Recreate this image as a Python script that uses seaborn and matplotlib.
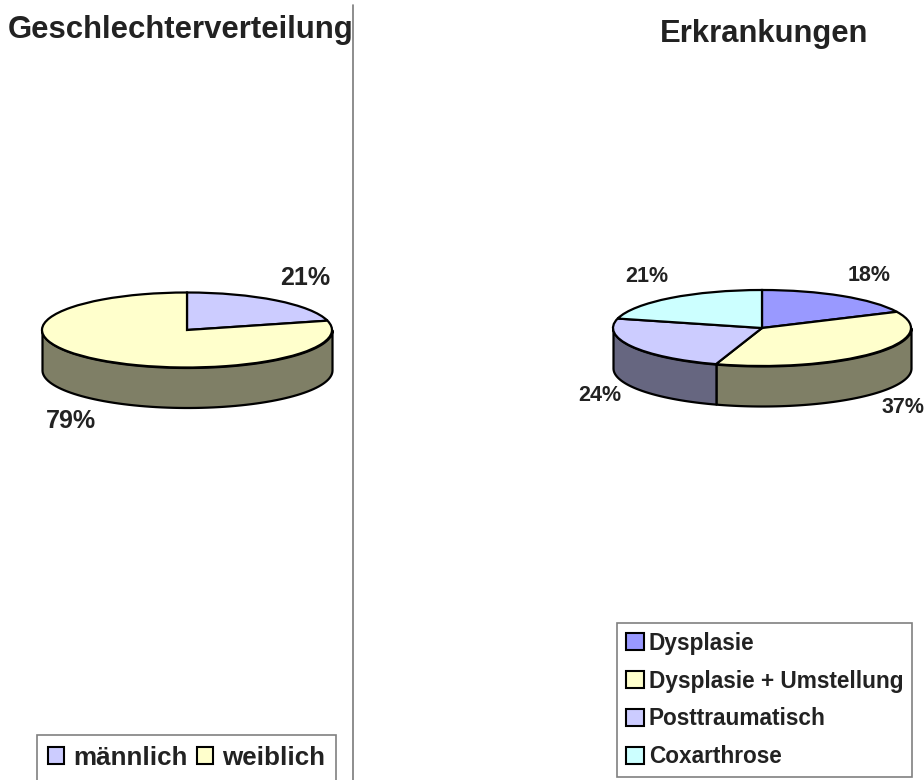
import numpy as np
import seaborn as sns
import matplotlib.pyplot as plt
from matplotlib.patches import Patch

# values
gender_labels = ['männlich', 'weiblich']
gender_values = [21, 79]
gender_top = ['#CCCCFF', '#FFFFCC']
gender_side = ['#666680', '#7F7F66']

disease_labels = ['Dysplasie', 'Dysplasie + Umstellung', 'Posttraumatisch', 'Coxarthrose']
disease_values = [18, 37, 24, 21]
disease_top = ['#9999FF', '#FFFFCC', '#CCCCFF', '#CCFFFF']
disease_side = ['#4D4D80', '#7F7F66', '#666680', '#668080']

W, H = 924, 780

sns.set_theme(style='white')
plt.rcParams['font.family'] = ['Liberation Sans', 'DejaVu Sans']
TXT = '#222222'

fig = plt.figure(figsize=(W / 100, H / 100), dpi=100, facecolor='white')


def pie3d(x0, x1, cx, cy, a, b, depth, values, top, side, label_xy, label_size):
    # axes covers a pixel column, data units are the ellipse radii
    ax = fig.add_axes([x0 / W, 0, (x1 - x0) / W, 1])
    ax.pie(values, colors=sns.color_palette(top), startangle=90, counterclock=False,
           wedgeprops=dict(edgecolor='black', linewidth=1.6))
    ax.set_aspect('auto')
    ax.set_xlim((x0 - cx) / a, (x1 - cx) / a)
    ax.set_ylim((cy - H) / b, cy / b)

    # side wall: only the front half of the disc shows
    start = 0
    for v, c in zip(values, side):
        end = start + v / sum(values) * 360
        lo, hi = max(start, 90), min(end, 270)
        if lo < hi:
            t = np.radians(np.linspace(lo, hi, 80))
            ytop = np.cos(t)
            ax.fill_between(np.sin(t), ytop, ytop - depth / b, facecolor=c,
                            edgecolor='black', linewidth=1.6, zorder=0)
        start = end

    for v, (px, py) in zip(values, label_xy):
        ax.text((px - cx) / a, (cy - py) / b, f'{v}%', ha='center', va='center',
                fontsize=label_size, fontweight='bold', color=TXT, clip_on=False)
    return ax


ax1 = pie3d(0, 353, 187, 330, 145, 37.5, 40, gender_values, gender_top, gender_side,
            [(305, 278), (71, 421)], 18)
ax2 = pie3d(560, 924, 762, 328, 149, 38, 40, disease_values, disease_top, disease_side,
            [(869, 276), (903, 408), (600, 396), (647, 277)], 15.5)

# divider between the two charts
ax1.plot([1, 1], [0, 1 - 5 / H], transform=ax1.transAxes, color='#7a7a7a', lw=1.2, clip_on=False)

fig.text(8 / W, 1 - 30 / H, 'Geschlechterverteilung', fontsize=22.4, fontweight='bold',
         color=TXT, ha='left', va='center')
fig.text(764 / W, 1 - 34 / H, 'Erkrankungen', fontsize=22.3, fontweight='bold',
         color=TXT, ha='center', va='center')


def legend(ax, labels, colors, ncol, left, top, size, gap, pad, hsize, textpad, colgap):
    handles = [Patch(facecolor=c, edgecolor='black', linewidth=1.5) for c in colors]
    leg = ax.legend(handles, labels, ncol=ncol, loc='upper left',
                    bbox_to_anchor=(left / W, 1 - top / H), bbox_transform=fig.transFigure,
                    prop=dict(size=size, weight='bold'), frameon=True, fancybox=False,
                    edgecolor='#808080', framealpha=1, borderaxespad=0, borderpad=pad,
                    handlelength=hsize, handleheight=hsize, handletextpad=textpad,
                    columnspacing=colgap, labelspacing=gap, labelcolor=TXT)
    leg.get_frame().set_linewidth(1.2)
    return leg


legend(ax1, gender_labels, gender_top, 2, 37, 735, 18.7, 0.5, 0.42, 0.62, 0.35, 0.35)
legend(ax2, disease_labels, disease_top, 1, 617, 623, 16.3, 0.66, 0.38, 0.8, 0.22, 0.6)

fig.savefig('out.png', dpi=100)
